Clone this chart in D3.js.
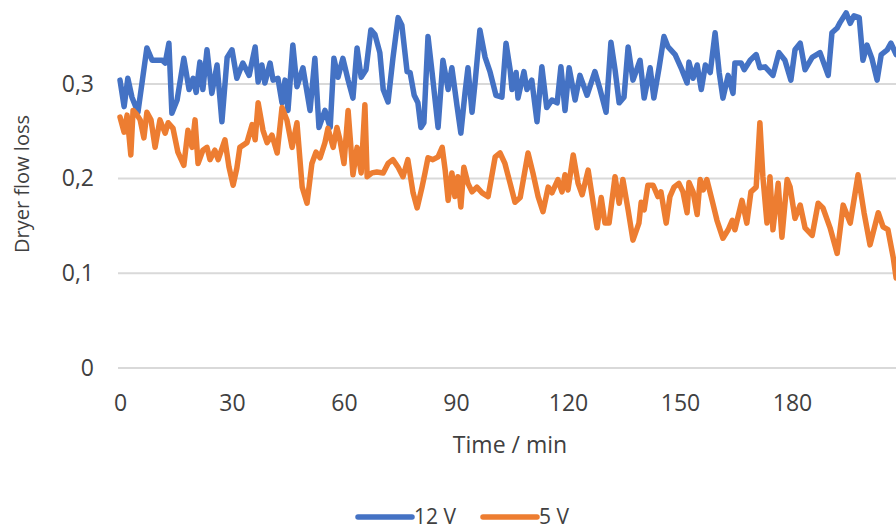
<!DOCTYPE html>
<html>
<head>
<meta charset="utf-8">
<script src="https://cdn.jsdelivr.net/npm/d3@7"></script>
<style>
  body { margin: 0; background: #fff; }
  svg { display: block; font-family: "Open Sans", "Noto Sans", sans-serif; }
  .tick text { fill: #404040; }
</style>
</head>
<body>
<svg id="chart"></svg>
<script>
// ---- data ----
var seriesNames = ["12 V", "5 V"];
var seriesColors = ["#4472C4", "#ED7D31"];
var xTicks = [0, 30, 60, 90, 120, 150, 180];
var yTicks = [0, 0.1, 0.2, 0.3];

var time12 = [0,1.1,2.1,3.2,4.8,7.2,8.6,11.3,12.1,13.1,13.9,15.3,17.1,18.5,19.6,20.4,21.4,22.2,23.3,24.6,26.0,27.3,28.7,30.0,31.3,32.9,34.6,36.2,37.0,38.0,38.8,40.2,41.0,42.3,43.4,44.2,45.0,46.3,47.4,49.0,50.9,52.2,53.3,54.9,56.3,57.3,58.4,59.7,61.1,62.4,63.5,64.6,65.9,67.2,68.3,69.6,70.5,71.8,73.1,74.5,75.5,76.9,77.7,78.8,79.8,80.6,81.4,82.5,83.6,85.2,86.5,87.9,88.9,90.3,91.3,92.4,93.2,94.3,95.1,96.4,97.8,99.1,100.7,102.3,103.4,104.5,105.0,106.1,106.6,108.2,109.0,110.3,111.7,113.0,114.3,115.7,117.1,118.1,119.2,120.3,121.9,123.2,125.1,127.2,128.6,130.2,131.5,132.6,133.7,135.0,136.1,137.4,139.3,140.4,142.0,143.0,144.4,145.7,146.8,148.7,150.5,151.9,152.4,153.5,154.6,155.7,156.8,158.1,159.4,160.5,161.5,162.9,164.2,164.7,166.4,167.2,168.8,170.4,171.4,172.8,174.9,176.5,178.1,179.7,180.8,182.2,183.5,185.4,187.5,189.7,190.7,192.1,192.9,194.5,195.6,196.6,198.0,199.0,200.1,201.4,202.8,203.9,205.5,206.5,207.9];
var loss12 = [0.304,0.276,0.306,0.286,0.270,0.338,0.325,0.325,0.322,0.343,0.269,0.283,0.327,0.294,0.306,0.291,0.323,0.294,0.336,0.290,0.320,0.260,0.328,0.336,0.306,0.322,0.309,0.339,0.302,0.320,0.301,0.322,0.304,0.306,0.280,0.304,0.272,0.341,0.297,0.317,0.272,0.327,0.254,0.272,0.254,0.327,0.307,0.327,0.304,0.285,0.338,0.307,0.315,0.357,0.352,0.333,0.294,0.281,0.327,0.370,0.362,0.313,0.312,0.288,0.280,0.254,0.259,0.350,0.312,0.254,0.325,0.294,0.317,0.276,0.248,0.290,0.317,0.270,0.301,0.357,0.328,0.313,0.288,0.286,0.343,0.315,0.294,0.312,0.285,0.313,0.294,0.304,0.260,0.318,0.275,0.283,0.280,0.318,0.272,0.317,0.283,0.309,0.288,0.313,0.294,0.270,0.344,0.315,0.280,0.286,0.339,0.304,0.325,0.285,0.317,0.285,0.317,0.350,0.339,0.331,0.315,0.301,0.323,0.306,0.320,0.294,0.320,0.312,0.354,0.312,0.285,0.309,0.290,0.322,0.322,0.315,0.325,0.331,0.317,0.318,0.309,0.333,0.325,0.304,0.336,0.343,0.315,0.328,0.333,0.309,0.354,0.359,0.365,0.375,0.364,0.372,0.370,0.325,0.341,0.327,0.304,0.331,0.336,0.343,0.331];

var time5 = [0,1.1,1.9,2.9,3.5,4.6,5.4,6.4,7.2,8.3,9.4,10.7,12.1,12.9,14.2,15.5,17.1,18.2,19.3,20.1,20.9,22.2,23.3,24.1,25.4,26.3,28.1,29.2,30.3,31.3,32.1,34.0,35.4,36.2,37.0,38.3,39.4,40.7,42.1,43.4,44.7,46.1,47.4,48.8,50.1,51.4,52.5,53.6,54.9,55.7,57.1,58.1,58.9,60.0,61.1,62.4,63.5,64.6,65.6,66.2,67.5,68.8,70.5,71.8,73.1,74.5,75.8,77.1,78.5,79.6,80.9,81.7,82.5,83.8,85.2,86.3,87.1,87.9,88.9,89.7,90.5,91.3,92.1,93.2,94.3,95.6,97.0,98.6,100.5,101.8,103.1,104.5,105.8,107.2,109.3,110.6,112.0,113.3,114.7,115.7,117.3,118.4,119.2,120.0,121.4,122.7,123.8,125.4,126.4,127.8,128.9,129.9,131.0,132.6,133.7,134.7,136.1,137.4,139.0,139.6,140.4,141.4,142.8,144.1,144.9,146.3,147.3,148.4,149.7,150.8,151.9,152.4,153.5,154.6,155.4,156.2,157.2,158.6,159.9,161.5,162.9,164.0,164.7,166.6,167.9,169.0,170.4,171.4,172.2,173.3,174.1,174.9,176.3,177.3,178.7,179.5,180.8,182.2,183.5,185.4,187.0,188.3,190.2,192.1,193.7,195.6,197.7,199.3,200.9,203.1,204.4,205.7,207.1,207.9];
var loss5 = [0.265,0.249,0.267,0.225,0.272,0.267,0.262,0.243,0.270,0.262,0.233,0.262,0.248,0.259,0.253,0.228,0.214,0.251,0.233,0.262,0.216,0.230,0.233,0.220,0.230,0.220,0.241,0.212,0.193,0.211,0.233,0.238,0.257,0.241,0.280,0.251,0.238,0.246,0.227,0.275,0.262,0.233,0.259,0.191,0.174,0.216,0.228,0.222,0.238,0.253,0.233,0.254,0.241,0.216,0.272,0.204,0.233,0.206,0.278,0.202,0.206,0.207,0.206,0.216,0.220,0.212,0.202,0.220,0.185,0.169,0.191,0.206,0.222,0.220,0.223,0.233,0.209,0.177,0.206,0.181,0.202,0.170,0.212,0.195,0.186,0.191,0.185,0.181,0.223,0.227,0.216,0.195,0.175,0.180,0.227,0.206,0.181,0.165,0.191,0.185,0.199,0.186,0.204,0.188,0.225,0.195,0.183,0.209,0.183,0.148,0.180,0.153,0.153,0.202,0.174,0.199,0.167,0.135,0.153,0.175,0.167,0.193,0.193,0.181,0.186,0.153,0.181,0.191,0.195,0.186,0.164,0.196,0.186,0.162,0.199,0.188,0.199,0.177,0.156,0.137,0.146,0.156,0.146,0.177,0.153,0.186,0.191,0.259,0.202,0.153,0.202,0.146,0.195,0.138,0.199,0.191,0.158,0.172,0.148,0.140,0.174,0.169,0.148,0.121,0.172,0.153,0.204,0.164,0.130,0.164,0.149,0.146,0.117,0.095];

// ---- layout ----
var width = 896, height = 529;
var textColor = "#404040";

var svg = d3.select("#chart")
    .attr("width", width)
    .attr("height", height)
    .attr("viewBox", [0, 0, width, height]);

// value -> display
var xScale = d3.scaleLinear().domain([0, 210]).range([120, 904]);
var yScale = d3.scaleLinear().domain([0, 0.4]).range([368, -10.8]);

// gridlines
svg.append("g")
  .selectAll("line")
  .data(yTicks)
  .join("line")
    .attr("x1", 118)
    .attr("x2", width)
    .attr("y1", function(d) { return yScale(d); })
    .attr("y2", function(d) { return yScale(d); })
    .attr("stroke", "#d9d9d9")
    .attr("stroke-width", 2);

// x axis labels
var xAxis = d3.axisBottom(xScale).tickValues(xTicks).tickSize(0).tickPadding(0);
svg.append("g")
    .attr("transform", "translate(0,397)")
    .call(xAxis)
    .call(function(g) { g.select(".domain").remove(); })
    .selectAll("text")
    .attr("font-size", 23)
    .attr("font-family", "Open Sans")
    .attr("dy", "0.6em");

// y axis labels (comma decimals)
var commaFmt = function(d) { return d === 0 ? "0" : d3.format(".1f")(d).replace(".", ","); };
var yAxis = d3.axisLeft(yScale).tickValues(yTicks).tickFormat(commaFmt).tickSize(0).tickPadding(0);
svg.append("g")
    .attr("transform", "translate(94,0)")
    .call(yAxis)
    .call(function(g) { g.select(".domain").remove(); })
    .selectAll("text")
    .attr("font-size", 23)
    .attr("font-family", "Open Sans");

// axis titles
svg.append("text")
    .attr("x", 510)
    .attr("y", 453)
    .attr("text-anchor", "middle")
    .attr("font-size", 23)
    .attr("fill", textColor)
    .text("Time / min");

svg.append("text")
    .attr("transform", "translate(29,184) rotate(-90)")
    .attr("text-anchor", "middle")
    .attr("font-size", 20)
    .attr("fill", textColor)
    .text("Dryer flow loss");

// lines
var line = d3.line()
    .x(function(d) { return xScale(d[0]); })
    .y(function(d) { return yScale(d[1]); });

var series = [d3.zip(time12, loss12), d3.zip(time5, loss5)];

svg.append("g")
  .selectAll("path")
  .data(series)
  .join("path")
    .attr("d", line)
    .attr("fill", "none")
    .attr("stroke", function(d, i) { return seriesColors[i]; })
    .attr("stroke-width", 5.5)
    .attr("stroke-linejoin", "round")
    .attr("stroke-linecap", "round");

// legend
var legendX = [358, 483];
var legend = svg.append("g")
  .selectAll("g")
  .data(seriesNames)
  .join("g")
    .attr("transform", function(d, i) { return "translate(" + legendX[i] + ",517)"; });

legend.append("line")
    .attr("x1", 0)
    .attr("x2", 54)
    .attr("stroke", function(d, i) { return seriesColors[i]; })
    .attr("stroke-width", 5.5)
    .attr("stroke-linecap", "round");

legend.append("text")
    .attr("x", 56)
    .attr("dy", "0.35em")
    .attr("font-size", 21)
    .attr("fill", textColor)
    .text(function(d) { return d; });
</script>
</body>
</html>
